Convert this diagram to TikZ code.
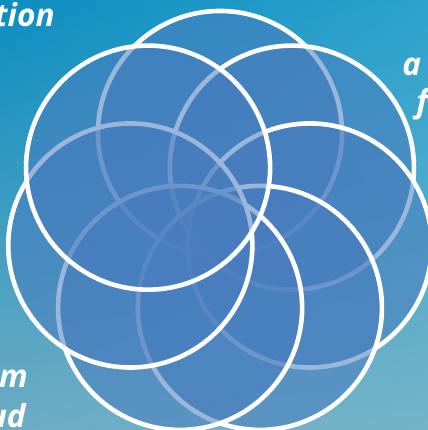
\documentclass[tikz,border=0pt]{standalone}
\usepackage{fontspec}
\newfontfamily\rsfont{Open Sans}
\usepackage{xcolor}
\usepackage{tikz}
\usetikzlibrary{calc,shadings}
\definecolor{rspetalblue}{RGB}{72,124,190}
\definecolor{rsbgtl}{RGB}{12,141,192}
\definecolor{rsbgtr}{RGB}{44,162,205}
\definecolor{rsbgbl}{RGB}{110,172,196}
\definecolor{rsbgbr}{RGB}{116,180,200}
\tikzset{
  rspetal/.style={
    circle, draw=white, fill=rspetalblue, fill opacity=0.55,
    line width=0.115cm, minimum size=6.1cm, inner sep=0pt
  },
  rslabel/.style={
    font=\rsfont\bfseries\itshape\fontsize{22.5}{27}\selectfont,
    text=white, inner sep=0pt
  }
}

\begin{document}
\begin{tikzpicture}[x=0.025cm,y=0.025cm]
  \useasboundingbox (0,0) rectangle (428,430);
  \clip (0,0) rectangle (428,430);
  % background
  \shade[upper left=rsbgtl, upper right=rsbgtr, lower left=rsbgbl, lower right=rsbgbr] (0,0) rectangle (428,430);
  \coordinate (hub) at (220,205);
  % seven petals, clockwise from the top; each one lies over the one before
  \foreach \i [evaluate=\i as \a using 90-\i*360/7] in {0,...,6}
    \node[rspetal] (c\i) at ([shift={(\a:92)}]hub) {};
  % captions cut by the frame
  \node[rslabel,anchor=base east] (tion) at (55,403) {tion};
  \node[rslabel,anchor=base west] (al) at (402,355) {a};
  \node[rslabel,anchor=base west] (fl) at (416,317) {f};
  \node[rslabel,anchor=base east] (ml) at (28,43) {m};
  \node[rslabel,anchor=base east] (ud) at (26,2) {ud};
\end{tikzpicture}
\end{document}
